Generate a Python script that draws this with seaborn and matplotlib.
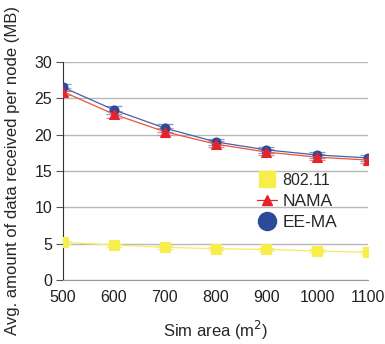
import matplotlib
matplotlib.use("Agg")
import matplotlib.pyplot as plt
import seaborn as sns
import pandas as pd
import numpy as np
from matplotlib.lines import Line2D

sim_area = [500, 600, 700, 800, 900, 1000, 1100]
wifi = [5.2, 4.8, 4.5, 4.3, 4.2, 4.0, 3.8]
nama = [25.9, 22.8, 20.4, 18.7, 17.6, 16.9, 16.5]
eema = [26.5, 23.4, 20.9, 19.0, 17.9, 17.2, 16.8]
nama_err = [0.5, 0.5, 0.5, 0.4, 0.4, 0.4, 0.4]
eema_err = [0.5, 0.5, 0.5, 0.4, 0.4, 0.4, 0.4]
wifi_err = [0.2, 0.2, 0.2, 0.2, 0.2, 0.2, 0.2]
series_names = ["802.11", "NAMA", "EE-MA"]
yticks = [0, 5, 10, 15, 20, 25, 30]

sns.set_style("white")
plt.rcParams['font.family'] = ['Liberation Sans', 'DejaVu Sans']

fig = plt.figure(figsize=(3.85, 3.44), dpi=100)
ax = fig.add_axes([0.164, 0.186, 0.792, 0.634])

df = pd.DataFrame({
    "area": sim_area * 3,
    "value": wifi + nama + eema,
    "series": [series_names[0]] * 7 + [series_names[1]] * 7 + [series_names[2]] * 7,
})
colors = {"802.11": "#f7ee4a", "NAMA": "#e8222a", "EE-MA": "#2a4a9a"}
line_colors = {"802.11": "#f5ec60", "NAMA": "#e8553a", "EE-MA": "#4a5ea8"}
err_colors = {"802.11": "#f5ec80", "NAMA": "#f08a8a", "EE-MA": "#8a9ad0"}
markers = {"802.11": "s", "NAMA": "^", "EE-MA": "o"}

for i, yv in enumerate(yticks):
    ax.axhline(yv, color="#b8b8b8", lw=1.0, zorder=0)

errs = {"802.11": wifi_err, "NAMA": nama_err, "EE-MA": eema_err}
for name in ["802.11", "EE-MA", "NAMA"]:
    sub = df[df.series == name]
    ax.errorbar(sub["area"], sub["value"], yerr=errs[name], fmt="none",
                ecolor=err_colors[name], elinewidth=0.9, capsize=6, capthick=0.9, zorder=2)
    sns.lineplot(data=sub, x="area", y="value", ax=ax, color=line_colors[name],
                 lw=0.9, marker=markers[name], markersize=6.5,
                 markerfacecolor=colors[name], markeredgecolor=colors[name],
                 legend=False, zorder=3)

ax.set_xlim(500, 1100)
ax.set_ylim(0, 30)
ax.set_xticks(sim_area)
ax.set_yticks(yticks)
ax.tick_params(axis="both", labelsize=11.5, colors="#222222")
ax.tick_params(axis="x", direction="inout", length=8, width=0.8, color="#888888", pad=3)
ax.tick_params(axis="y", direction="out", length=5, width=0.8, color="#555555", left=True, pad=3)
for s in ["top", "right"]:
    ax.spines[s].set_visible(False)
ax.spines["left"].set_color("#333333")
ax.spines["bottom"].set_color("#999999")
ax.spines["left"].set_linewidth(0.8)
ax.spines["bottom"].set_linewidth(0.8)

ax.set_xlabel("Sim area (m$^2$)", fontsize=12, labelpad=10)
ax.set_ylabel("Avg. amount of data received per node (MB)", fontsize=12, labelpad=10)

handles = [
    Line2D([], [], ls="none", marker="s", markersize=12, color=colors["802.11"]),
    Line2D([], [], ls="-", lw=0.9, marker="^", markersize=6.5, color=colors["NAMA"]),
    Line2D([], [], ls="none", marker="o", markersize=13, color=colors["EE-MA"]),
]
leg = ax.legend(handles, series_names, loc="upper left", bbox_to_anchor=(0.6, 0.54),
                frameon=False, fontsize=12.5, handlelength=1.2, handletextpad=0.3,
                labelspacing=0.35, borderpad=0.1)
leg.get_texts()[0].set_fontsize(11.5)

fig.savefig("out.png", dpi=100)
